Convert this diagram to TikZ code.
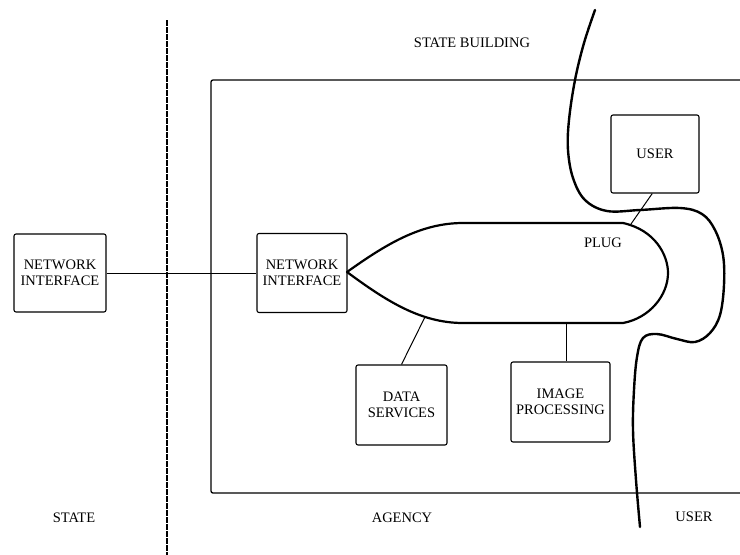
\documentclass[tikz,border=0pt]{standalone}
\usepackage{fontspec}
\setmainfont{Liberation Serif}
\begin{document}
\begin{tikzpicture}[x=1pt,y=-1pt,
  lbl/.style={font=\fontsize{14.5}{16}\selectfont, align=center, inner sep=0pt},
  unit/.style={draw, line width=1.1pt, rounded corners=2pt, inner sep=0pt,
               font=\fontsize{14.5}{16}\selectfont, align=center},
  link/.style={line width=1pt},
  border/.style={line width=2.4pt, line cap=round},
  plugline/.style={line width=2.2pt, line join=round}]
\clip (0,0) rectangle (740,555);
\fill[white] (0,0) rectangle (740,555);

% state / agency boundary
\draw[line width=2.8pt, dash pattern=on 6pt off 1pt] (167,20) -- (167,560);

% state building outline
\draw[line width=1.3pt, rounded corners=2pt] (760,80) -- (211,80) -- (211,493) -- (760,493);

% agency / user boundary
\draw[border] plot[smooth, tension=0.6] coordinates {
  (595,10) (584,43) (575,80) (569,120) (568,150) (573,178) (585,200)
  (607,211) (640,210) (680,208) (702,214) (715,230) (723,255) (724,285)
  (720,315) (710,333) (695,342) (677,339) (657,334) (643,338) (637,357)
  (634,390) (633,430) (636,480) (640,527)};

% plug
\draw[plugline] (347,272) .. controls (385,245) and (420,223) .. (463,223)
  -- (623,223) .. controls (655,230) and (668,255) .. (668,273)
  .. controls (668,295) and (650,318) .. (623,323)
  -- (463,323) .. controls (420,323) and (385,300) .. cycle;
\coordinate (plugN) at (631,224);
\coordinate (plugSW) at (425,317);
\coordinate (plugS) at (566,323);
\node[lbl] (pluglbl) at (603,243) {PLUG};

% units
\node[unit, minimum width=92pt, minimum height=78pt] (ni1) at (60,273) {NETWORK\\INTERFACE};
\node[unit, minimum width=90pt, minimum height=79pt] (ni2) at (302,273) {NETWORK\\INTERFACE};
\node[unit, minimum width=88pt, minimum height=78pt] (user) at (655,154) {USER};
\node[unit, minimum width=91pt, minimum height=80pt] (data) at (401.5,405) {DATA\\SERVICES};
\node[unit, minimum width=99pt, minimum height=80pt] (img) at (560.5,402) {IMAGE\\PROCESSING};

% connections
\draw[link] (ni1) -- (ni2);
\draw[link] (plugN) -- (user.-94);
\draw[link] (data.north) -- (plugSW);
\draw[link] (plugS) -- (plugS |- img.north);

% region labels
\node[lbl] (bldg) at (472,43) {STATE BUILDING};
\node[lbl] (state) at (74,518) {STATE};
\node[lbl] (agency) at (402,518) {AGENCY};
\node[lbl] (userzone) at (694,517) {USER};
\end{tikzpicture}
\end{document}
